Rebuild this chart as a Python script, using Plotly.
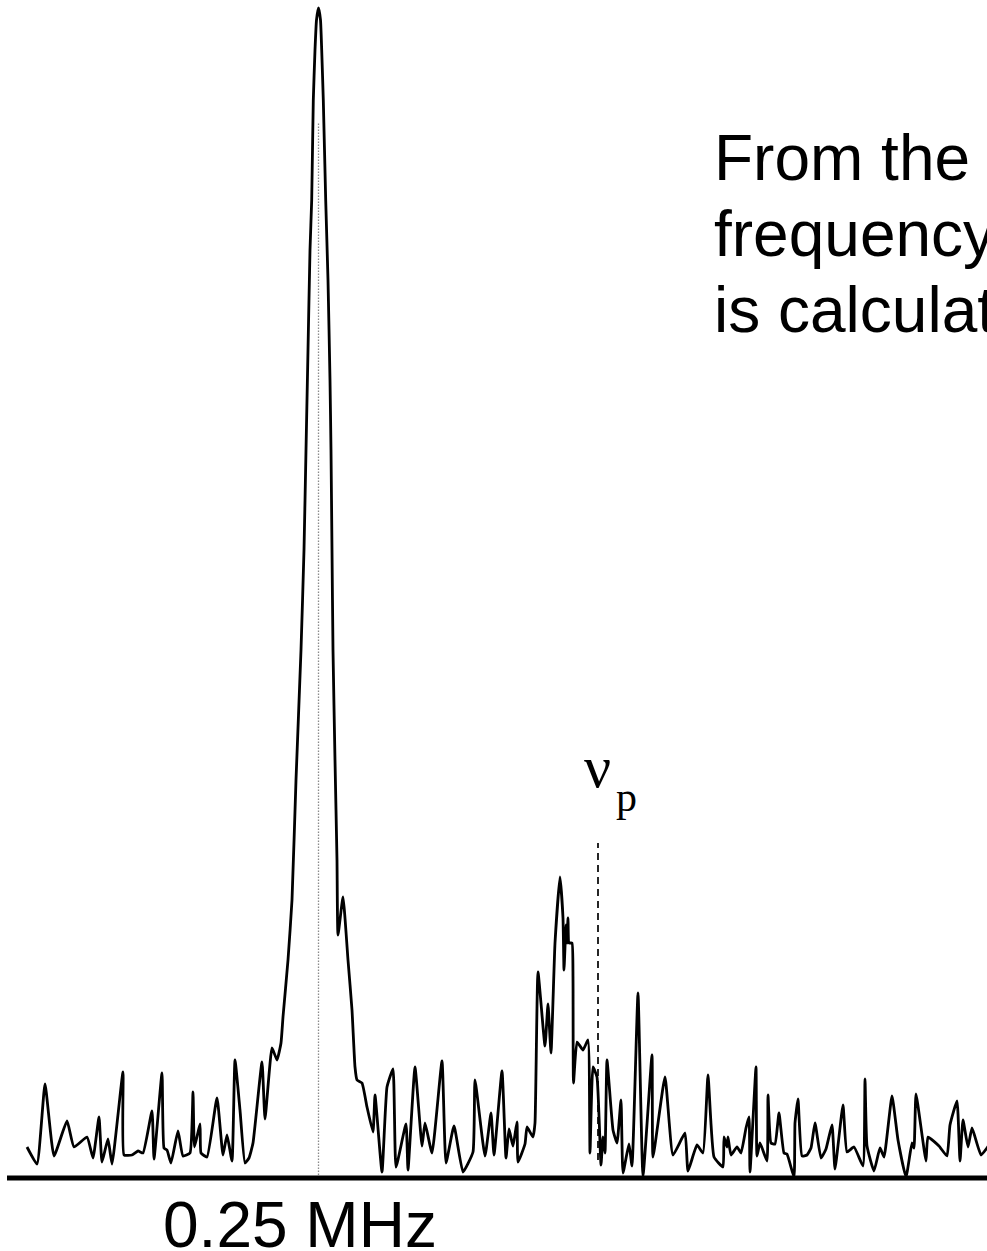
import plotly.graph_objects as go

# Spectrum trace: frequency channel and amplitude (arbitrary units)
freq = [27, 37, 45, 54, 67, 74, 87, 93, 99, 102, 108, 112, 123, 124, 132, 138, 143, 152, 154, 162,
        164, 167, 171, 178, 183, 190, 193, 194.5, 200, 201, 207, 217, 223, 227, 232, 235, 240, 245, 249, 253,
        262, 265, 272, 277, 281, 283, 288, 292, 296, 301, 304, 306, 308, 310, 311.7, 313.3, 315, 316.5, 318.5,
        320.5, 321.7, 323.3, 325.7, 328, 330, 331, 332, 333, 335, 337, 338, 343, 348, 352, 355, 357, 362,
        367, 373, 375, 382, 387, 393, 396, 406, 408, 415, 422, 425, 432, 442, 446, 454, 463, 473, 475, 485,
        491, 494, 502, 506, 509, 513, 517, 518, 525, 527, 533, 535, 538, 545, 548, 551, 555, 560, 563, 564,
        566, 567, 568, 569, 572, 573, 573.5, 577, 583, 588, 590, 593, 597, 601, 603, 605, 607, 613, 617, 621,
        623, 629, 632, 638, 643, 652, 653, 665, 673, 685, 688, 697, 703, 708, 714, 723, 724, 727, 728, 731,
        737, 741, 746, 749, 750, 756, 757, 760, 767, 768, 771, 775, 779, 784, 787, 794, 795, 798, 802, 807,
        811, 815, 821, 826, 832, 835, 843, 847, 854, 863, 865, 867, 874, 880, 884, 892, 898, 906, 912, 914,
        916, 926, 928, 939, 947, 950, 957, 960, 963, 968, 972, 981, 987, 992]
amplitude = [31, 14, 94, 22, 57, 31, 41, 20, 61, 16, 39, 14, 106, 23, 23, 27, 25, 67, 19, 105,
             30, 28, 15, 47, 22, 25, 86, 31, 54, 25, 21, 80, 23, 43, 17, 118, 68, 15, 20, 35,
             116, 59, 130, 118, 135, 161, 218, 278, 398, 528, 628, 728, 828, 928, 978, 1078, 1128, 1158, 1170,
             1158, 1128, 1078, 978, 898, 798, 728, 628, 528, 418, 318, 243, 281, 218, 168, 111, 98, 95,
             71, 46, 83, 6, 91, 109, 11, 54, 8, 111, 32, 55, 25, 117, 15, 52, 6, 26, 98, 22,
             65, 23, 107, 20, 49, 32, 56, 16, 34, 51, 41, 55, 206, 132, 174, 125, 235, 301, 260, 208,
             253, 235, 260, 235, 235, 201, 95, 136, 128, 138, 25, 111, 101, 13, 41, 25, 118, 48, 35, 78,
             5, 34, 12, 185, 2, 123, 21, 101, 23, 45, 7, 33, 25, 103, 21, 11, 41, 31, 41, 23,
             31, 25, 50, 61, 6, 111, 22, 35, 17, 83, 35, 34, 65, 25, 24, 1, 55, 79, 22, 23,
             30, 55, 20, 29, 53, 9, 73, 26, 31, 12, 99, 32, 7, 30, 21, 82, 38, 1, 35, 30,
             84, 17, 41, 32, 22, 53, 77, 17, 58, 31, 50, 23, 30, 38]

axis_start = 7
peak_freq = 318.5
peak_marker_top = 1056
vp_freq = 598
vp_marker = [18, 335]

text_lines = ["From the", "frequency", "is calculated"]
text_centers = [1020, 944, 868]
peak_label = "0.25 MHz"
vp_symbol = "ν"
vp_subscript = "p"

fig = go.Figure()
fig.add_trace(go.Scatter(x=freq, y=amplitude, mode="lines",
                         line=dict(color="black", width=2.8, shape="spline", smoothing=0.4),
                         hoverinfo="skip", showlegend=False))

fig.add_shape(type="line", xref="x", yref="y", x0=peak_freq, x1=peak_freq, y0=0, y1=peak_marker_top,
              line=dict(color="#8a8a8a", width=1.3, dash="1.5px,1.5px"), layer="below")
fig.add_shape(type="line", xref="x", yref="y", x0=vp_freq, x1=vp_freq, y0=vp_marker[0], y1=vp_marker[1],
              line=dict(color="black", width=1.7, dash="7px,5px"), layer="below")
fig.add_shape(type="line", xref="x", yref="y", x0=axis_start, x1=1000, y0=0, y1=0,
              line=dict(color="black", width=5))

for t, yc in zip(text_lines, text_centers):
    fig.add_annotation(x=712, y=yc, xref="x", yref="y", text=t, showarrow=False,
                       xanchor="left", yanchor="middle",
                       font=dict(family="Liberation Sans, Arial", size=64, color="black"))

fig.add_annotation(x=peak_freq - 19, y=-47, xref="x", yref="y", text=peak_label, showarrow=False,
                   xanchor="center", yanchor="middle",
                   font=dict(family="Liberation Sans, Arial", size=64, color="black"))
fig.add_annotation(x=582, y=411, xref="x", yref="y", text=vp_symbol, showarrow=False,
                   xanchor="left", yanchor="middle",
                   font=dict(family="Liberation Serif, Times New Roman", size=60, color="black"))
fig.add_annotation(x=614, y=381, xref="x", yref="y", text=vp_subscript, showarrow=False,
                   xanchor="left", yanchor="middle",
                   font=dict(family="Liberation Serif, Times New Roman", size=42, color="black"))

fig.update_layout(width=987, height=1251, margin=dict(l=0, r=0, t=0, b=0),
                  paper_bgcolor="white", plot_bgcolor="white",
                  xaxis=dict(visible=False, range=[0, 987], fixedrange=True),
                  yaxis=dict(visible=False, range=[-73, 1178], fixedrange=True))

fig.write_html("out.html", config={"displayModeBar": False},
               post_script="document.body.style.margin='0';document.body.style.overflow='hidden';")
